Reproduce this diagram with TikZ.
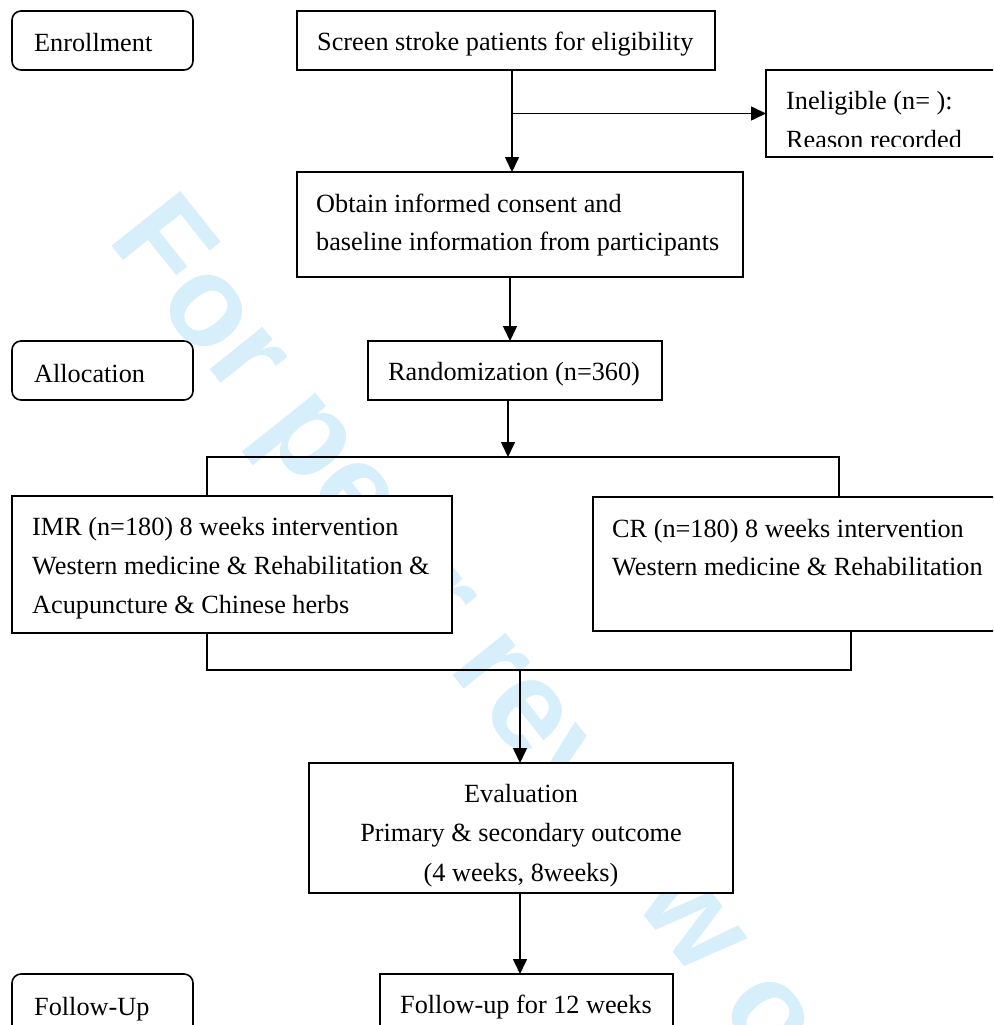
\documentclass[tikz,border=0pt]{standalone}
\usepackage{fontspec}
\setmainfont{Liberation Serif}
\newfontfamily\wmfont{Liberation Sans}
\usetikzlibrary{arrows.meta}
\definecolor{wmblue}{RGB}{214,239,251}
\tikzset{
  box/.style={draw=black, line width=1.6pt, fill=white, inner sep=0pt, outer sep=0pt, anchor=north west},
  rbox/.style={box, rounded corners=9pt},
  txt/.style={anchor=base west, inner sep=0pt, font=\fontsize{26.25}{39}\selectfont},
  ctxt/.style={txt, anchor=base},
  conn/.style={line width=1.6pt},
  arr/.style={conn, -{Triangle[length=15pt,width=14pt]}},
}
\begin{document}
\begin{tikzpicture}[x=1pt,y=-1pt]
\useasboundingbox (0,0) rectangle (993,1025);
\clip (0,0) rectangle (993,1025);
% watermark
\node[rotate=-51.5, anchor=base west, inner sep=0pt, text=wmblue,
      font=\wmfont\bfseries\fontsize{128}{128}\selectfont] (wm) at (106.6,239.7) {For peer review only};
% boxes
\node[rbox, minimum width=181pt, minimum height=59pt] (enroll) at (12,11) {};
\node[rbox, minimum width=181pt, minimum height=59pt] (alloc) at (12,341) {};
\node[rbox, minimum width=181pt, minimum height=70pt] (fulab) at (12,974) {};
\node[box, minimum width=418pt, minimum height=59pt] (screen) at (297,11) {};
\node[box, minimum width=244pt, minimum height=87pt] (inel) at (766,70) {};
\node[box, minimum width=446pt, minimum height=105pt] (obtain) at (297,172) {};
\node[box, minimum width=294pt, minimum height=59pt] (rand) at (368,341) {};
\node[box, minimum width=440pt, minimum height=137pt] (imr) at (12,496) {};
\node[box, minimum width=417pt, minimum height=134pt] (cr) at (593,497) {};
\node[box, minimum width=424pt, minimum height=130pt] (eval) at (309,763) {};
\node[box, minimum width=293pt, minimum height=70pt] (fu) at (380,974) {};
% texts
\node[txt] (tenroll) at (34,52) {Enrollment};
\node[txt] (talloc) at (34,382) {Allocation};
\node[txt] (tfulab) at (34,1015) {Follow-Up};
\node[txt] (tscreen) at (317,51) {Screen stroke patients for eligibility};
\begin{scope}
  \clip (766,70) rectangle (1010,146.5);
  \node[txt] (tinel1) at (786,109) {Ineligible (n= ):};
  \node[txt] (tinel2) at (786,148) {Reason recorded};
\end{scope}
\node[txt] (tobt1) at (316,212) {Obtain informed consent and};
\node[txt] (tobt2) at (316,250) {baseline information from participants};
\node[txt] (trand) at (388,380) {Randomization (n=360)};
\node[txt] (timr1) at (32,535) {IMR (n=180) 8 weeks intervention};
\node[txt] (timr2) at (32,574) {Western medicine \& Rehabilitation \&};
\node[txt] (timr3) at (32,613) {Acupuncture \& Chinese herbs};
\node[txt] (tcr1) at (612,537) {CR (n=180) 8 weeks intervention};
\node[txt] (tcr2) at (612,575) {Western medicine \& Rehabilitation};
\node[ctxt] (tev1) at (521,802) {Evaluation};
\node[ctxt] (tev2) at (521,841.5) {Primary \& secondary outcome};
\node[ctxt] (tev3) at (521,881) {(4 weeks, 8weeks)};
\node[txt] (tfu) at (400,1013) {Follow-up for 12 weeks};
% connectors
\coordinate (c1) at (512,0);
\coordinate (c2) at (510,0);
\coordinate (c3) at (508,457);
\coordinate (sl) at (207,457);
\coordinate (sr) at (839,457);
\coordinate (jl) at (207,670);
\coordinate (jr) at (851,670);
\coordinate (j) at (520,670);
\draw[arr] (screen.south -| c1) -- (obtain.north -| c1);
\draw[arr] (c1 |- inel.west) -- (inel.west);
\draw[arr] (obtain.south -| c2) -- (rand.north -| c2);
\draw[arr] (rand.south -| c3) -- (c3);
\draw[conn] (imr.north -| sl) -- (sl) -- (sr) -- (cr.north -| sr);
\draw[conn] (imr.south -| jl) -- (jl) -- (jr) -- (cr.south -| jr);
\draw[arr] (j) -- (eval.north -| j);
\draw[arr] (eval.south -| j) -- (fu.north -| j);
\end{tikzpicture}
\end{document}
